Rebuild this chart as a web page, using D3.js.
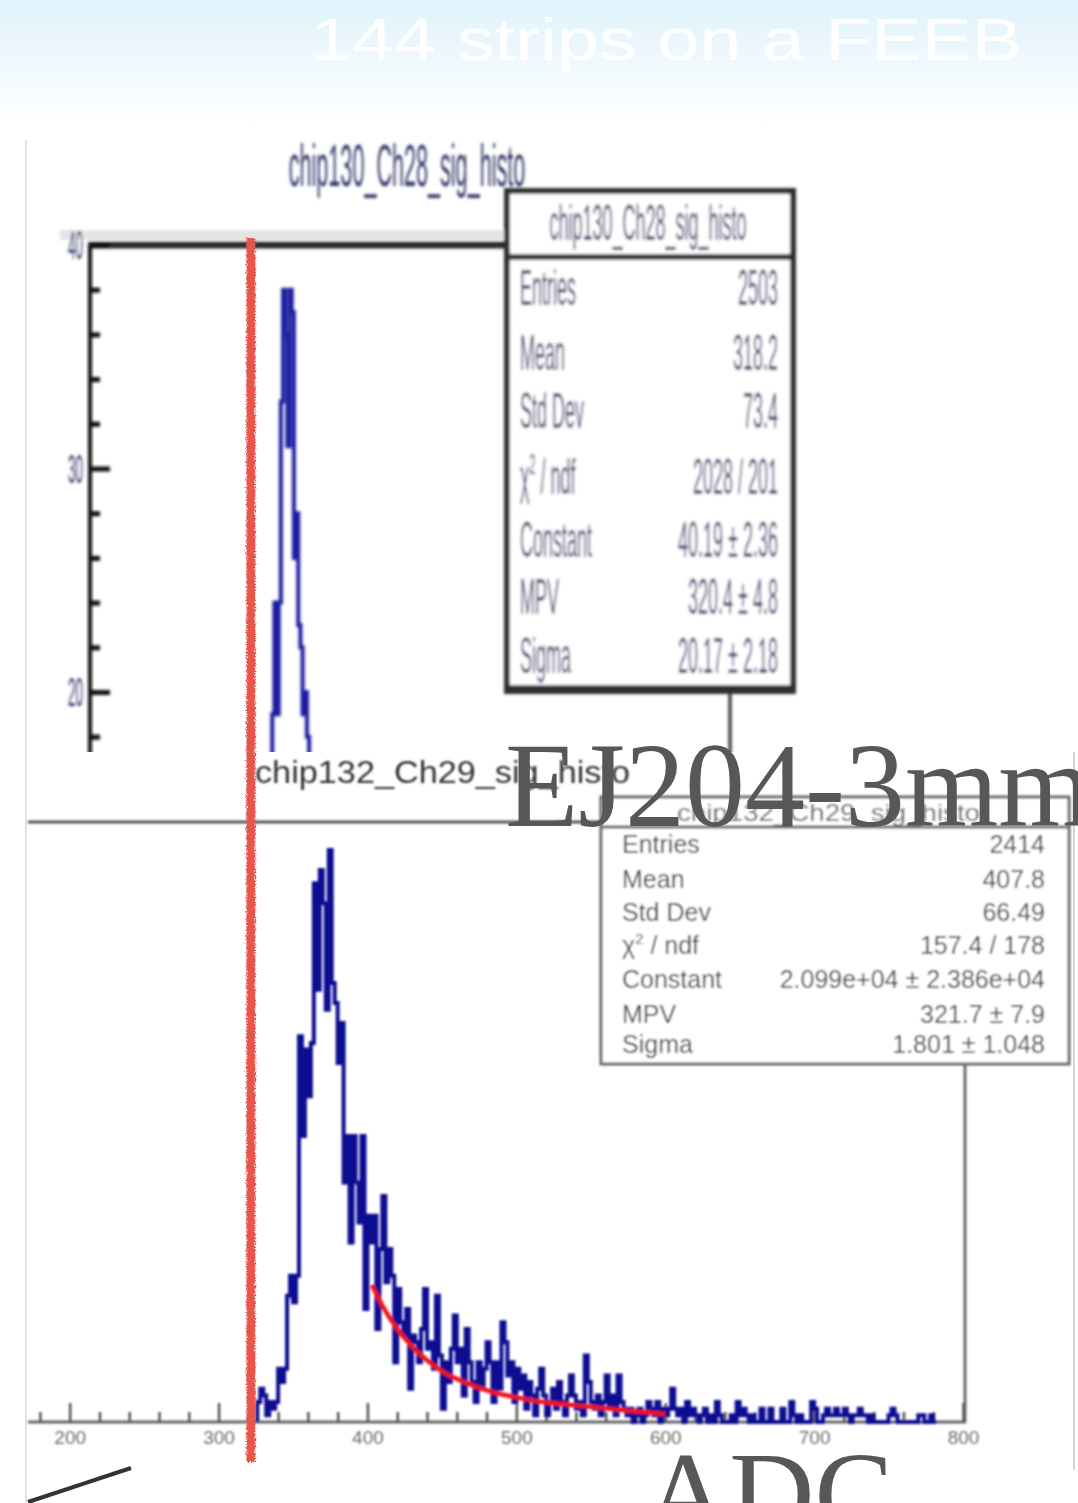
<!DOCTYPE html>
<html><head><meta charset="utf-8">
<script src="https://cdn.jsdelivr.net/npm/d3@7"></script>
<style>body{margin:0;background:#fff;overflow:hidden}svg{display:block}</style>
</head><body>
<svg id="c" width="1078" height="1503"></svg>
<script>
// ---------------- DATA ----------------
const slideTitle = "144 strips on a FEEB";
const scintLabel = "EJ204-3mm";
const axisTitle = "ADC";
const topHistName = "chip130_Ch28_sig_histo";
const bottomHistName = "chip132_Ch29_sig_histo";

const statLabels = ["Entries", "Mean", "Std Dev", "chi2", "Constant", "MPV", "Sigma"];
const bottomStatValues = ["2414", "407.8", "66.49", "157.4 / 178", "2.099e+04 \u00b1 2.386e+04", "321.7 \u00b1 7.9", "1.801 \u00b1 1.048"];
const topStatValues = ["2503", "318.2", "73.4", "2028 / 201", "40.19 \u00b1 2.36", "320.4 \u00b1 4.8", "20.17 \u00b1 2.18"];

const bottomTicks = [200, 300, 400, 500, 600, 700, 800];
const topYTicks = [40, 30, 20];

// bottom histogram: 2-ADC bins starting at 326
const bottomBinStart = 326;
const bottomBinWidth = 2;
const bottomCounts = [
  3,5,4,1,3,2,3,8,6,8,
  19,22,18,22,58,43,56,49,57,81,
  65,83,78,62,86,66,63,54,60,36,
  43,27,43,36,30,43,17,31,27,31,
  14,26,34,21,26,22,9,20,15,13,
  17,5,13,12,9,14,20,11,12,8,
  19,10,2,9,6,11,16,9,11,4,
  14,9,6,3,9,5,8,12,9,3,
  9,5,15,12,7,9,3,8,5,7,
  2,6,4,1,5,8,4,1,3,5,
  2,6,3,1,4,7,4,2,3,1,
  10,6,3,2,4,1,3,7,2,4,
  1,7,3,2,1,2,0,1,2,0,
  1,3,2,1,3,0,2,1,2,5,
  2,1,2,0,3,1,2,1,0,1,
  2,0,1,0,3,1,0,0,0,1,
  0,3,1,2,1,0,1,0,0,2,
  0,0,2,0,0,0,2,0,0,3,
  1,0,1,0,0,0,3,2,0,0,
  1,2,1,1,2,1,1,2,1,0,
  1,1,2,1,1,0,1,0,0,0,
  0,0,1,2,1,0,0,0,0,0,
  0,0,1,1,0,0,1,0
];
// Landau fit curve
const fitADC    = [403, 410, 420, 429, 440, 451, 465, 484, 500, 518, 535, 552, 575, 600];
const fitCounts = [20.6, 17.5, 14.0, 11.6, 9.3, 7.5, 6.0, 4.5, 3.7, 3.0, 2.6, 2.25, 1.7, 1.2];

// top histogram (partly visible)
const topBinStart = 316;
const topBinWidth = 2;
const topCounts = [12,19,24,19,24,33,38,36,31,38,37,26,28,23,22,19,20,18,16,14,12,10];

const markerADC = 321.7;

// ---------------- DRAWING ----------------
const W = 1078, H = 1503;
const svg = d3.select("#c");
const defs = svg.append("defs");

const grad = defs.append("linearGradient").attr("id", "bg").attr("x1", 0).attr("y1", 0).attr("x2", 0).attr("y2", 1);
grad.append("stop").attr("offset", "0%").attr("stop-color", "#e0f2fb");
grad.append("stop").attr("offset", "60%").attr("stop-color", "#f3fafe");
grad.append("stop").attr("offset", "100%").attr("stop-color", "#ffffff");

function blurFilter(id, s) {
  defs.append("filter").attr("id", id).attr("filterUnits", "userSpaceOnUse")
    .attr("x", 0).attr("y", 0).attr("width", W).attr("height", H)
    .append("feGaussianBlur").attr("stdDeviation", s);
}
blurFilter("blurTop", 1.5);
blurFilter("blurBot", 0.8);
const rough = defs.append("filter").attr("id", "rough").attr("filterUnits", "userSpaceOnUse")
  .attr("x", 0).attr("y", 0).attr("width", W).attr("height", H);
rough.append("feTurbulence").attr("type", "fractalNoise").attr("baseFrequency", 0.7).attr("numOctaves", 2).attr("result", "n");
rough.append("feDisplacementMap").attr("in", "SourceGraphic").attr("in2", "n").attr("scale", 5);

defs.append("clipPath").attr("id", "topClip").append("rect").attr("x", 0).attr("y", 0).attr("width", W).attr("height", 752);

svg.append("rect").attr("width", W).attr("height", H).attr("fill", "#fff");
svg.append("rect").attr("width", W).attr("height", 125).attr("fill", "url(#bg)");

svg.append("text").attr("x", 310).attr("y", 60).attr("font-family", "Liberation Sans, Arial, sans-serif")
  .attr("font-size", 60).attr("fill", "#ffffff").attr("textLength", 712).attr("lengthAdjust", "spacingAndGlyphs")
  .text(slideTitle);

// panel borders
svg.append("line").attr("x1", 26).attr("x2", 26).attr("y1", 140).attr("y2", H).attr("stroke", "#e3e3e3").attr("stroke-width", 2);
svg.append("line").attr("x1", 1074).attr("x2", 1074).attr("y1", 752).attr("y2", 1470).attr("stroke", "#d6d6d6").attr("stroke-width", 2);

// ================= TOP PANEL =================
const xT = d3.scaleLinear().domain([150, 800]).range([90, 795]);
const yT = d3.scaleLinear().domain([20, 40]).range([692, 245]);
const gTopC = svg.append("g").attr("clip-path", "url(#topClip)");
const gTop = gTopC.append("g").attr("filter", "url(#blurTop)");
const navy = "#34386a";

function squishText(g, x, y, txt, size, anchor, sx, fill) {
  const t = g.append("g").attr("transform", `translate(${x},${y}) scale(${sx},1)`)
    .append("text").attr("x", 0).attr("y", 0).attr("font-family", "Liberation Sans, Arial, sans-serif")
    .attr("font-size", size).attr("text-anchor", anchor).attr("fill", fill);
  if (txt === "chi2") {
    t.text("\u03c7");
    t.append("tspan").attr("font-size", size * 0.6).attr("dy", -size * 0.4).text("2");
    t.append("tspan").attr("dy", size * 0.4).text(" / ndf");
  } else t.text(txt);
  return t;
}

// top title
squishText(gTop, 407, 186, topHistName, 60, "middle", 0.36, navy);

// frame top band
gTop.append("rect").attr("x", 60).attr("y", 230).attr("width", 735).attr("height", 10).attr("fill", "#e4e4e4");
gTop.append("line").attr("x1", 88).attr("x2", 795).attr("y1", yT(40)).attr("y2", yT(40)).attr("stroke", "#2a2a2a").attr("stroke-width", 7);
// y axis line
gTop.append("line").attr("x1", 90).attr("x2", 90).attr("y1", yT(40)).attr("y2", 760).attr("stroke", "#111").attr("stroke-width", 4);
const topMajor = d3.axisLeft(yT).tickValues(topYTicks).tickSizeInner(-20).tickSizeOuter(0).tickFormat("");
const topMinor = d3.axisLeft(yT).tickValues(d3.range(18, 41, 2).filter(v => v % 10 !== 0)).tickSizeInner(-10).tickSizeOuter(0).tickFormat("");
[topMajor, topMinor].forEach(ax => {
  const a = gTop.append("g").attr("transform", "translate(90,0)").call(ax);
  a.select(".domain").remove();
  a.selectAll("line").attr("stroke", "#111").attr("stroke-width", 5);
});
topYTicks.forEach(v => squishText(gTop, 83, yT(v) + 14, String(v), 40, "end", 0.34, navy));

// top histogram
const stepLine = (xs, ys) => d3.line().x(d => xs(d[0])).y(d => ys(d[1])).curve(d3.curveStepAfter);
function stepPts(start, w, counts, base) {
  const p = [[start, base]];
  counts.forEach((c, i) => p.push([start + i * w, c]));
  p.push([start + counts.length * w, base]);
  return p;
}
gTop.append("path").attr("d", stepLine(xT, yT)(stepPts(topBinStart, topBinWidth, topCounts, 0)))
  .attr("fill", "none").attr("stroke", "#1a1aa0").attr("stroke-width", 4);

// top stats box
gTop.append("line").attr("x1", 730).attr("x2", 730).attr("y1", 691).attr("y2", 760).attr("stroke", "#222").attr("stroke-width", 3);
gTop.append("rect").attr("x", 507).attr("y", 191).attr("width", 286).attr("height", 500)
  .attr("fill", "#fff").attr("stroke", "#2e2e2e").attr("stroke-width", 6);
gTop.append("line").attr("x1", 507).attr("x2", 793).attr("y1", 257).attr("y2", 257).attr("stroke", "#2e2e2e").attr("stroke-width", 6);
gTop.append("line").attr("x1", 507).attr("x2", 793).attr("y1", 687).attr("y2", 687).attr("stroke", "#2e2e2e").attr("stroke-width", 4);
squishText(gTop, 648, 240, topHistName, 50, "middle", 0.36, navy);
const topRowY = [287, 352, 410, 476, 539, 596, 655];
statLabels.forEach((l, i) => {
  squishText(gTop, 520, topRowY[i] + 18, l, 50, "start", 0.36, navy);
  squishText(gTop, 778, topRowY[i] + 18, topStatValues[i], 50, "end", 0.36, navy);
});

// ================= BOTTOM PANEL =================
const xB = d3.scaleLinear().domain([172, 800]).range([28, 963]);
const yB = d3.scaleLinear().domain([0, 90]).range([1422, 823.5]);
const gB = svg.append("g").attr("filter", "url(#blurBot)");

gB.append("text").attr("x", 255).attr("y", 783).attr("font-family", "Liberation Sans, Arial, sans-serif")
  .attr("font-size", 32).attr("fill", "#333").attr("textLength", 375).attr("lengthAdjust", "spacingAndGlyphs")
  .text(bottomHistName);

// frame
gB.append("line").attr("x1", 28).attr("x2", 600).attr("y1", 822).attr("y2", 822).attr("stroke", "#555").attr("stroke-width", 3);
gB.append("line").attr("x1", 965).attr("x2", 965).attr("y1", 1062).attr("y2", 1422).attr("stroke", "#6a6a6a").attr("stroke-width", 3);

// axis
gB.append("line").attr("x1", 28).attr("x2", 966).attr("y1", yB(0)).attr("y2", yB(0)).attr("stroke", "#666").attr("stroke-width", 3);
const bMajor = d3.axisBottom(xB).tickValues(bottomTicks).tickSizeInner(-19).tickSizeOuter(0).tickPadding(9);
const bMinor = d3.axisBottom(xB).tickValues(d3.range(180, 801, 20).filter(v => v % 100 !== 0)).tickSizeInner(-10).tickSizeOuter(0).tickFormat("");
[bMajor, bMinor].forEach(ax => {
  const a = gB.append("g").attr("transform", `translate(0,${yB(0)})`).call(ax);
  a.select(".domain").remove();
  a.selectAll("line").attr("stroke", "#555").attr("stroke-width", 2.5);
  a.selectAll("text").attr("font-family", "Liberation Sans, Arial, sans-serif").attr("font-size", 19).attr("fill", "#6a6a6a");
});

// histogram (drawn over the axis line)
gB.append("path").attr("d", stepLine(xB, yB)(stepPts(bottomBinStart, bottomBinWidth, bottomCounts, 0)))
  .attr("fill", "none").attr("stroke", "#0b0b92").attr("stroke-width", 4);

// fit
gB.append("path").attr("d", d3.line().x(d => xB(d[0])).y(d => yB(d[1])).curve(d3.curveMonotoneX)(fitADC.map((a, i) => [a, fitCounts[i]])))
  .attr("fill", "none").attr("stroke", "#ee1515").attr("stroke-width", 4.5);

// stats box
gB.append("rect").attr("x", 601).attr("y", 797).attr("width", 468).attr("height", 267)
  .attr("fill", "#fff").attr("stroke", "#666").attr("stroke-width", 3);
gB.append("line").attr("x1", 601).attr("x2", 1069).attr("y1", 827).attr("y2", 827).attr("stroke", "#666").attr("stroke-width", 3);
gB.append("text").attr("x", 677).attr("y", 821).attr("font-family", "Liberation Sans, Arial, sans-serif")
  .attr("font-size", 24).attr("fill", "#666").attr("textLength", 303).attr("lengthAdjust", "spacingAndGlyphs")
  .text(bottomHistName);
const botRowY = [844, 879, 912, 945, 979, 1014, 1044];
statLabels.forEach((l, i) => {
  squishText(gB, 622, botRowY[i] + 9, l, 25, "start", 1, "#3e3e3e");
  squishText(gB, 1045, botRowY[i] + 9, bottomStatValues[i], 25, "end", 1, "#3e3e3e");
});

// ================= OVERLAYS =================
svg.append("line").attr("x1", xB(markerADC)).attr("x2", xB(markerADC)).attr("y1", 238).attr("y2", 1462)
  .attr("stroke", "#e8564c").attr("stroke-width", 9).attr("filter", "url(#rough)");

svg.append("text").attr("x", 505).attr("y", 826).attr("font-family", "Liberation Serif, Times New Roman, serif")
  .attr("font-size", 120).attr("fill", "#575757").text(scintLabel);
svg.append("text").attr("x", 644).attr("y", 1534).attr("font-family", "Liberation Serif, Times New Roman, serif")
  .attr("font-size", 118).attr("fill", "#575757").text(axisTitle);

svg.append("line").attr("x1", 28).attr("y1", 1502).attr("x2", 131).attr("y2", 1468).attr("stroke", "#333").attr("stroke-width", 4);
</script>
</body></html>
